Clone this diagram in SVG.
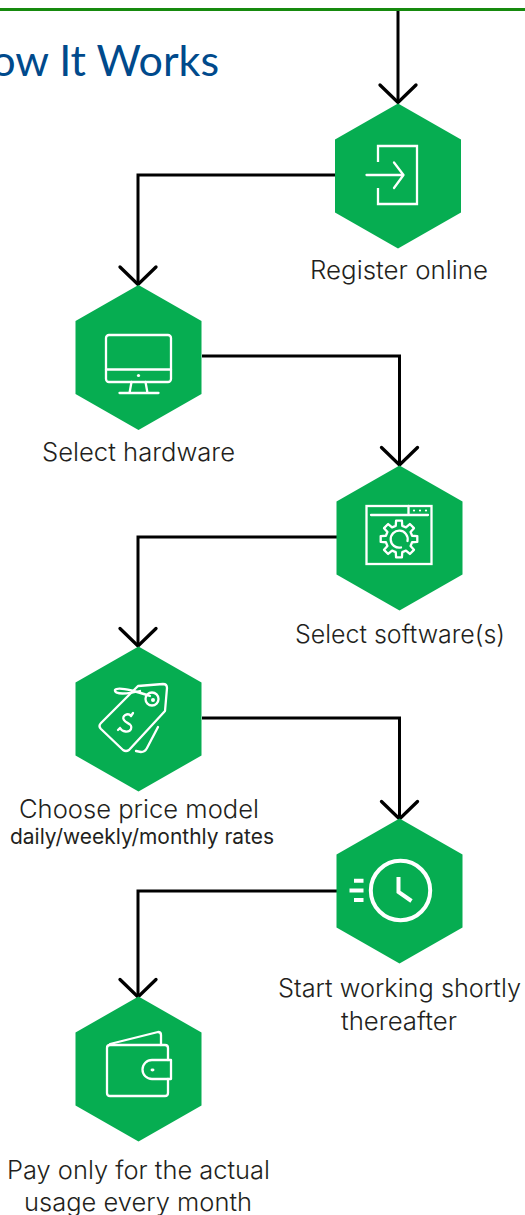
<svg xmlns="http://www.w3.org/2000/svg" width="525" height="1215" viewBox="0 0 525 1215">
<style>
.hex{fill:#06ad51}
.ic{fill:none;stroke:#fff;stroke-width:2.300;stroke-linecap:round;stroke-linejoin:round}
.icm{fill:none;stroke:#fff;stroke-width:2.300;stroke-linejoin:miter;stroke-linecap:butt}
.th{fill:none;stroke:#fff;stroke-width:4}
.dot{fill:#fff}
.lb{font-family:"Inter","Liberation Sans",sans-serif;font-size:25px;font-weight:300;fill:#231f20;text-anchor:middle}
.sm{font-size:21px;font-weight:400}
.con{fill:none;stroke:#000;stroke-width:3}
.ah{fill:none;stroke:#000;stroke-width:3.300;stroke-linecap:round}
</style>
<defs>
<polygon id="hx" class="hex" points="0,-72.500 63,-36.500 63,36.500 0,72.500 -63,36.500 -63,-36.500"/>
<path id="arr" class="ah" d="M-18,-18.500 L0,-1 L18,-18.500"/>
</defs>
<rect width="525" height="1215" fill="#fff"/>
<line x1="0" y1="9.500" x2="525" y2="9.500" stroke="#168a0e" stroke-width="3"/>
<text id="title" x="219" y="76" text-anchor="end" font-family="Lato,'Liberation Sans',sans-serif" font-size="43" fill="#004a8c">How It Works</text>
<g id="connectors">
<path class="con" d="M398,11 V102"/>
<path class="con" d="M336,175 H138 V283"/>
<path class="con" d="M202,356 H399.500 V464"/>
<path class="con" d="M337,537 H138 V645"/>
<path class="con" d="M202,718 H399.500 V817"/>
<path class="con" d="M337,891 H138 V995"/>
<use href="#arr" x="398" y="103.500"/>
<use href="#arr" x="138" y="285.500"/>
<use href="#arr" x="399.500" y="466"/>
<use href="#arr" x="138" y="647"/>
<use href="#arr" x="399.500" y="820"/>
<use href="#arr" x="138" y="998"/>
</g>
<g id="register">
<use href="#hx" x="398" y="176"/>
<path class="icm" d="M378,162 V146 H417 V204 H378 V188"/>
<path class="ic" d="M366.500,175 H403.500 M394,162.500 L403.500,175 L394,188"/>
<text class="lb" x="399" y="279" textLength="178" lengthAdjust="spacingAndGlyphs">Register online</text>
</g>
<g id="hardware">
<use href="#hx" x="138.500" y="357.500"/>
<rect class="ic" x="106" y="335" width="65" height="47" rx="3"/>
<path class="ic" d="M106,369.500 H171 M131.500,382 L129.500,393 M145.500,382 L147.500,393 M119.500,393 H158.500"/>
<circle class="dot" cx="138.500" cy="375.500" r="1.600"/>
<text class="lb" x="138.500" y="461" textLength="193" lengthAdjust="spacingAndGlyphs">Select hardware</text>
</g>
<g id="software">
<use href="#hx" x="399.500" y="538"/>
<rect class="icm" x="366.500" y="506" width="65" height="58"/>
<path class="ic" d="M371,515 H428 M408.500,506 V515"/>
<circle class="dot" cx="414" cy="510.500" r="1.100"/><circle class="dot" cx="420" cy="510.500" r="1.100"/><circle class="dot" cx="426" cy="510.500" r="1.100"/>
<path class="ic" transform="translate(399,539)" d="M-3.270,-13.100 L-2.900,-18.300 L2.900,-18.300 L3.270,-13.100 L6.950,-11.570 L10.870,-14.970 L14.970,-10.870 L11.570,-6.950 L13.100,-3.270 L18.300,-2.900 L18.300,2.900 L13.100,3.270 L11.570,6.950 L14.970,10.870 L10.870,14.970 L6.950,11.570 L3.270,13.100 L2.900,18.300 L-2.900,18.300 L-3.270,13.100 L-6.950,11.570 L-10.870,14.970 L-14.970,10.870 L-11.570,6.950 L-13.100,3.270 L-18.300,2.900 L-18.300,-2.900 L-13.100,-3.270 L-11.570,-6.950 L-14.970,-10.870 L-10.870,-14.970 L-6.950,-11.570 Z"/>
<path class="ic" d="M407.500,541 A8.500,8.500 0 1 0 401,547.500"/>
<text class="lb" x="400" y="643" textLength="210" lengthAdjust="spacingAndGlyphs">Select software(s)</text>
</g>
<g id="price">
<use href="#hx" x="138.500" y="719"/>
<path class="ic" d="M138,686 L163,684 Q167,684 167,688 L165,711 L129,750 Q126,752 123,750 L101,729 Q98,726 101,723 Z"/>
<circle class="ic" cx="152" cy="699" r="6.500"/>
<circle class="dot" cx="153" cy="700" r="2"/>
<path class="ic" d="M150,696 C135,691 118,686 115,690 C114,695 128,694 140,691"/>
<path class="ic" d="M158,727 L147,748 Q145,752 141,752 L136,751"/>
<path class="ic" d="M131,716 C128,712 121,716 124,720 C126,724 133,723 131,729 C129,733 122,732 120,728 M133,713 L131,716 M120,728 L118,730"/>
<text class="lb" x="139" y="818" textLength="240" lengthAdjust="spacingAndGlyphs">Choose price model</text>
<text class="lb sm" x="142" y="844" textLength="264" lengthAdjust="spacingAndGlyphs">daily/weekly/monthly rates</text>
</g>
<g id="start">
<use href="#hx" x="399.500" y="891"/>
<circle class="th" cx="400.500" cy="890.500" r="29.700"/>
<path class="th" d="M398.500,877 V892 L411.500,901"/>
<path class="th" d="M354,880.700 H363.500 M349.500,890.500 H363.500 M354,900 H363.500"/>
<text class="lb" x="399.500" y="997" textLength="243" lengthAdjust="spacingAndGlyphs">Start working shortly</text>
<text class="lb" x="399" y="1030" textLength="116" lengthAdjust="spacingAndGlyphs">thereafter</text>
</g>
<g id="wallet">
<use href="#hx" x="138.500" y="1069"/>
<path class="ic" d="M168,1060 V1048 Q168,1045 165,1045 H110 Q107,1045 107,1048 V1093 Q107,1096 110,1096 H165 Q168,1096 168,1093 V1079"/>
<path class="ic" d="M110,1044 L158,1032 Q161,1032 161,1035 V1045"/>
<path class="ic" d="M171,1060 H152 A9.500,9.500 0 0 0 152,1079 H171 Z"/>
<ellipse class="dot" cx="152.500" cy="1070" rx="2" ry="1.400"/>
<text class="lb" x="138.500" y="1179" textLength="263" lengthAdjust="spacingAndGlyphs">Pay only for the actual</text>
<text class="lb" x="138" y="1211" textLength="228" lengthAdjust="spacingAndGlyphs">usage every month</text>
</g>
</svg>
